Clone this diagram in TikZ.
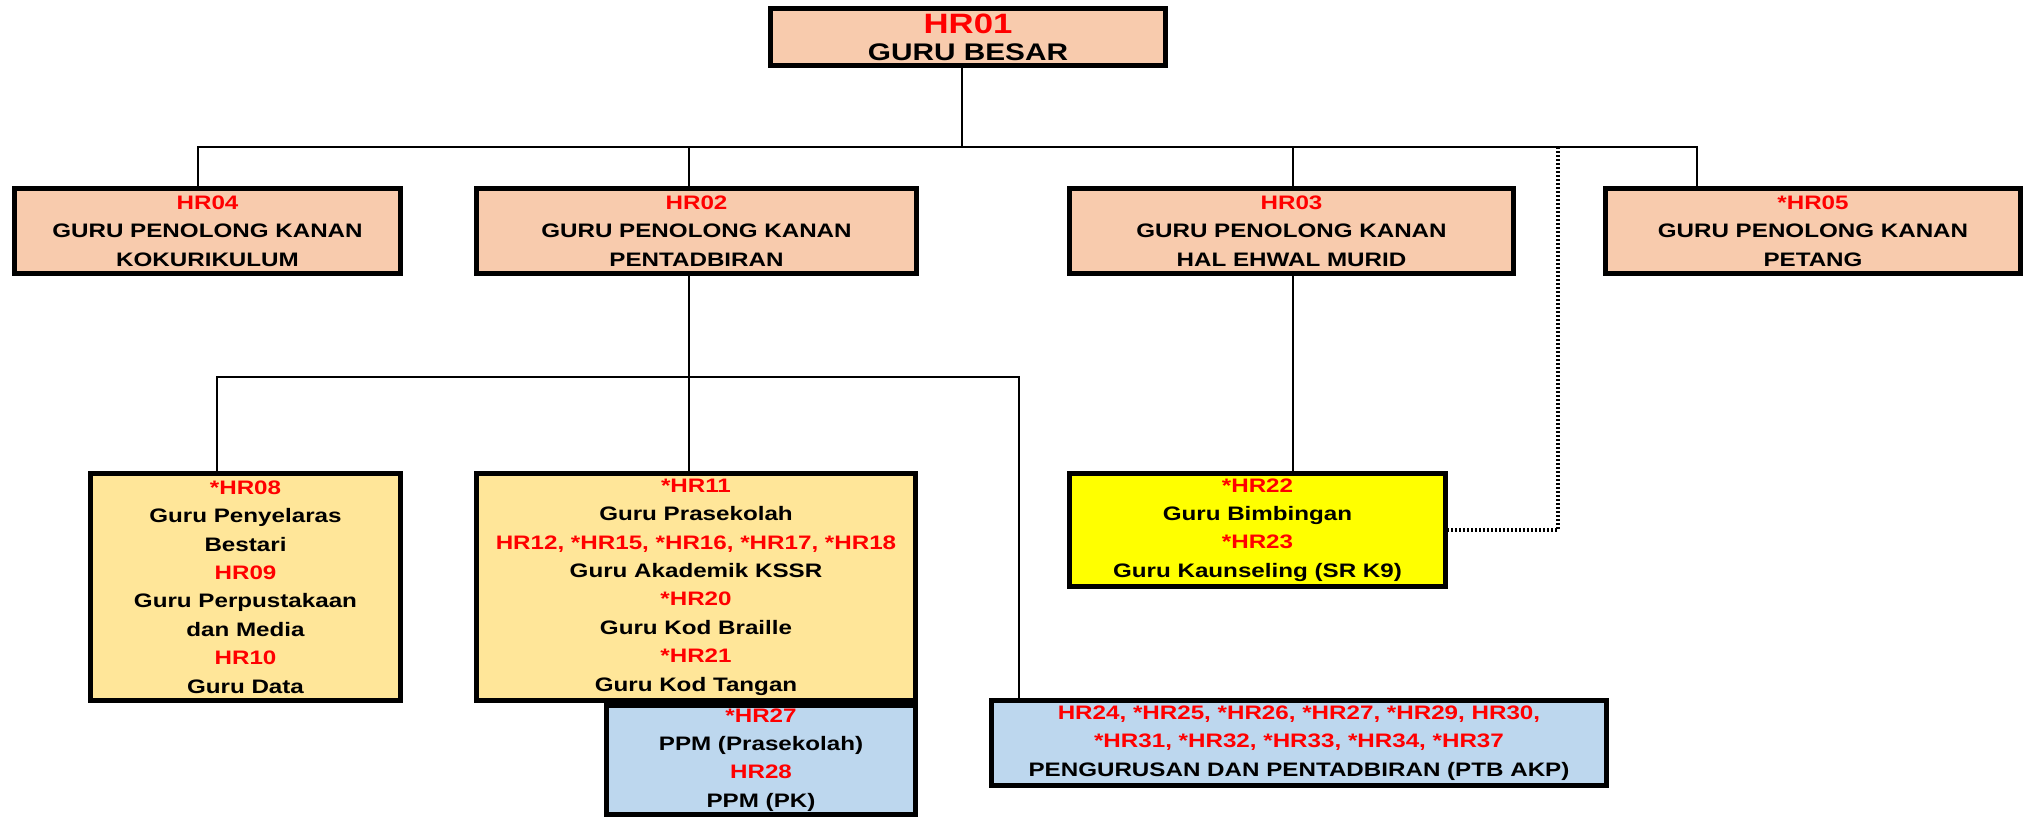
\documentclass[tikz,border=0pt]{standalone}
\usepackage{fontspec}
\setmainfont{Liberation Sans}[FakeStretch=1.24]
\usepackage{tikz}
\usetikzlibrary{positioning}
\definecolor{hrred}{HTML}{FF0000}
\definecolor{peach}{HTML}{F8CBAD}
\definecolor{sand}{HTML}{FFE699}
\definecolor{lemon}{HTML}{FFFF00}
\definecolor{skyblue}{HTML}{BDD7EE}
\newcommand{\hrc}[1]{\textcolor{hrred}{#1}}

\begin{document}
\begin{tikzpicture}[x=0.5pt,y=-0.5pt]
      \tikzstyle{bnode} = [draw=black, line width=2.5pt, rectangle, inner sep=0pt, align=center, font=\bfseries\fontsize{9.75}{14.2}\selectfont]
      \tikzstyle{pnode} = [bnode, fill=peach, minimum height=42.5pt]
      \tikzstyle{snode} = [bnode, fill=sand, minimum height=113.5pt]
      \tikzstyle{link} = [line width=1.2pt]
      \tikzstyle{dlink} = [line width=1.7pt, dash pattern=on 1.1pt off 0.9pt]

      \useasboundingbox (0,0) rectangle (2029,819);

      % top
      \node[bnode, fill=peach, minimum width=197.5pt, minimum height=28.5pt, font=\bfseries\fontsize{12}{13.5}\selectfont] (hr01) at (968,37)
        {{\fontsize{14}{16}\selectfont\hrc{HR01}}\\GURU BESAR};

      % level 1
      \node[pnode, minimum width=193pt] (hr04) at (207.5,231) {\hrc{HR04}\\GURU PENOLONG KANAN\\KOKURIKULUM};
      \node[pnode, minimum width=220pt] (hr02) at (696.5,231) {\hrc{HR02}\\GURU PENOLONG KANAN\\PENTADBIRAN};
      \node[pnode, minimum width=222pt] (hr03) at (1291.5,231) {\hrc{HR03}\\GURU PENOLONG KANAN\\HAL EHWAL MURID};
      \node[pnode, minimum width=207.5pt] (hr05) at (1813,231) {\hrc{*HR05}\\GURU PENOLONG KANAN\\PETANG};

      % level 2
      \node[snode, minimum width=155pt] (hr08) at (245.5,587)
        {\hrc{*HR08}\\Guru Penyelaras\\Bestari\\\hrc{HR09}\\Guru Perpustakaan\\dan Media\\\hrc{HR10}\\Guru Data};
      \node[snode, minimum width=219.5pt] (hr11) at (696,587)
        {\hrc{*HR11}\\Guru Prasekolah\\\hrc{HR12, *HR15, *HR16, *HR17, *HR18}\\Guru Akademik KSSR\\\hrc{*HR20}\\Guru Kod Braille\\\hrc{*HR21}\\Guru Kod Tangan};
      \node[bnode, fill=skyblue, minimum width=154.5pt, minimum height=54.5pt] (hr27) at (761,760)
        {\hrc{*HR27}\\PPM (Prasekolah)\\\hrc{HR28}\\PPM (PK)};
      \node[bnode, fill=lemon, minimum width=188pt, minimum height=56.5pt] (hr22) at (1257.5,530)
        {\hrc{*HR22}\\Guru Bimbingan\\\hrc{*HR23}\\Guru Kaunseling (SR K9)};
      \node[bnode, fill=skyblue, minimum width=307.5pt, minimum height=42.5pt] (ptb) at (1299,743)
        {\hrc{HR24, *HR25, *HR26, *HR27, *HR29, HR30,}\\\hrc{*HR31, *HR32, *HR33, *HR34, *HR37}\\PENGURUSAN DAN PENTADBIRAN (PTB AKP)};

      % bus points
      \coordinate (btop) at (962,147);
      \coordinate (b04) at (198,147);
      \coordinate (b02) at (689,147);
      \coordinate (b03) at (1293,147);
      \coordinate (bdot) at (1558,147);
      \coordinate (b05) at (1697,147);
      \coordinate (m08) at (217,377);
      \coordinate (mptb) at (1019,377);

      % edge top to level1
      \draw[link] (btop |- hr01.south) -- (btop);
      \draw[link] (b04 |- hr04.north) -- (b04) -- (b05) -- (b05 |- hr05.north);
      \draw[link] (b02) -- (b02 |- hr02.north);
      \draw[link] (b03) -- (b03 |- hr03.north);
      \draw[dlink] (bdot) |- (hr22.east);

      % edge level1 to level2
      \draw[link] (b02 |- hr02.south) -- (b02 |- hr11.north);
      \draw[link] (m08 |- hr08.north) -- (m08) -- (mptb) -- (mptb |- ptb.north);
      \draw[link] (b03 |- hr03.south) -- (b03 |- hr22.north);
\end{tikzpicture}
\end{document}
